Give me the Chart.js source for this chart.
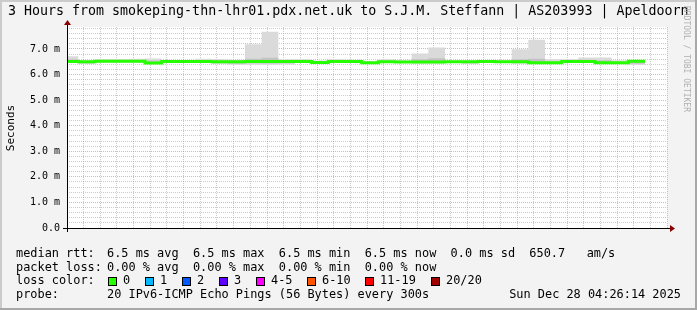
<!DOCTYPE html>
<html>
<head>
<meta charset="utf-8">
<script src="https://cdn.jsdelivr.net/npm/chart.js@4/dist/chart.umd.min.js"></script>
<style>
  html, body { margin: 0; padding: 0; background: #f3f3f3; }
</style>
</head>
<body>
<canvas id="smoke" width="697" height="310"></canvas>
<script>
// bucket start times, minutes after midnight (5 min steps)
const bucketStart = [85, 90, 95, 100, 105, 110, 115, 120, 125, 130, 135, 140, 145, 150, 155, 160, 165, 170,
  175, 180, 185, 190, 195, 200, 205, 210, 215, 220, 225, 230, 235, 240, 245, 250, 255];
// median rtt, ms
const medianRtt = [6.51, 6.50, 6.52, 6.52, 6.52, 6.45, 6.51, 6.51, 6.51, 6.50, 6.50, 6.51, 6.51, 6.51, 6.51, 6.47, 6.51, 6.51,
  6.46, 6.50, 6.49, 6.49, 6.49, 6.50, 6.50, 6.51, 6.50, 6.50, 6.46, 6.46, 6.51, 6.51, 6.46, 6.46, 6.52];
// smoke, min / max ping, ms
const smokeMin = [6.45, 6.41, 6.47, 6.47, 6.47, 6.42, 6.48, 6.48, 6.47, 6.41, 6.38, 6.38, 6.38, 6.39, 6.45, 6.42, 6.47, 6.47,
  6.43, 6.46, 6.45, 6.42, 6.42, 6.46, 6.41, 6.46, 6.46, 6.42, 6.42, 6.42, 6.46, 6.45, 6.42, 6.43, 6.37];
const smokeMax = [6.72, 6.55, 6.60, 6.60, 6.62, 6.63, 6.56, 6.57, 6.62, 6.60, 6.58, 7.19, 7.67, 6.60, 6.60, 6.55, 6.60, 6.58,
  6.52, 6.60, 6.56, 6.82, 7.06, 6.55, 6.54, 6.55, 6.55, 6.99, 7.36, 6.60, 6.60, 6.67, 6.67, 6.56, 6.55];
// darker inner smoke
const innerLo = [6.47, 6.44, 6.49, 6.49, 6.49, 6.43, 6.49, 6.49, 6.48, 6.45, 6.42, 6.44, 6.43, 6.44, 6.48, 6.44, 6.49, 6.49,
  6.44, 6.48, 6.47, 6.46, 6.45, 6.48, 6.45, 6.49, 6.48, 6.46, 6.44, 6.44, 6.49, 6.48, 6.44, 6.44, 6.42];
const innerHi = [6.60, 6.53, 6.56, 6.55, 6.56, 6.55, 6.53, 6.53, 6.57, 6.55, 6.54, 6.62, 6.66, 6.55, 6.55, 6.51, 6.55, 6.54,
  6.49, 6.54, 6.52, 6.60, 6.64, 6.52, 6.52, 6.53, 6.52, 6.60, 6.62, 6.52, 6.55, 6.58, 6.56, 6.50, 6.54];

const lossLabels = ['0', '1', '2', '3', '4-5', '6-10', '11-19', '20/20'];
const lossColors = ['#26ff00', '#00b8ff', '#0059ff', '#5e00ff', '#ff00ff', '#ff5500', '#ff0000', '#a10000'];
const lossX = [108, 145, 182, 219, 256, 307, 365, 431];

const title = '3 Hours from smokeping-thn-lhr01.pdx.net.uk to S.J.M. Steffann | AS203993 | Apeldoorn';
const rttRow = '6.5 ms avg  6.5 ms max  6.5 ms min  6.5 ms now  0.0 ms sd  650.7   am/s';
const lossRow = '0.00 % avg  0.00 % max  0.00 % min  0.00 % now';
const probeRow = '20 IPv6-ICMP Echo Pings (56 Bytes) every 300s';
const stamp = 'Sun Dec 28 04:26:14 2025';

const mono = '"DejaVu Sans Mono", monospace';

// step points: each bucket holds its value until the next one
const steps = (vals) => bucketStart.map((t, i) => ({ x: t, y: vals[i] }))
  .concat([{ x: bucketStart[bucketStart.length - 1] + 5, y: vals[vals.length - 1] }]);

const hhmm = (v) => String(Math.floor(v / 60)).padStart(2, '0') + ':' + String(v % 60).padStart(2, '0');

const frame = {
  id: 'frame',
  beforeDraw(chart) {
    const { ctx, chartArea: a } = chart;
    ctx.save();
    ctx.fillStyle = '#f3f3f3';
    ctx.fillRect(0, 0, chart.width, chart.height);
    ctx.fillStyle = '#ffffff';
    ctx.fillRect(a.left, a.top, a.right - a.left, a.bottom - a.top);
    ctx.restore();
  },
  afterDraw(chart) {
    const { ctx, chartArea: a } = chart;
    const W = chart.width, H = chart.height;
    ctx.save();
    // 3d frame
    ctx.fillStyle = '#cbcbcb';
    ctx.fillRect(0, 0, W, 2);
    ctx.fillRect(0, 0, 2, H);
    ctx.fillStyle = '#a8a8a8';
    ctx.fillRect(0, H - 2, W, 2);
    ctx.fillRect(W - 2, 0, 2, H);

    // axes
    ctx.strokeStyle = '#000';
    ctx.lineWidth = 1;
    ctx.beginPath();
    ctx.moveTo(a.left - 4, a.bottom + 0.5);
    ctx.lineTo(a.right + 4, a.bottom + 0.5);
    ctx.moveTo(a.left + 0.5, a.bottom + 4);
    ctx.lineTo(a.left + 0.5, a.top - 2);
    ctx.stroke();
    // arrows
    ctx.fillStyle = '#8b0000';
    ctx.beginPath();
    ctx.moveTo(a.right + 3, a.bottom - 3);
    ctx.lineTo(a.right + 8, a.bottom + 0.5);
    ctx.lineTo(a.right + 3, a.bottom + 4);
    ctx.fill();
    ctx.beginPath();
    ctx.moveTo(a.left - 3, a.top - 2);
    ctx.lineTo(a.left + 0.5, a.top - 7);
    ctx.lineTo(a.left + 4, a.top - 2);
    ctx.fill();

    // title
    ctx.fillStyle = '#000';
    ctx.textBaseline = 'middle';
    ctx.font = '13.3px ' + mono;
    ctx.fillText(title, 8, 12);

    // y label
    ctx.font = '11px ' + mono;
    ctx.save();
    ctx.translate(11, 128);
    ctx.rotate(-Math.PI / 2);
    ctx.textAlign = 'center';
    ctx.fillText('Seconds', 0, 0);
    ctx.restore();

    // watermark
    ctx.save();
    ctx.fillStyle = '#b0b0b0';
    ctx.font = '8px ' + mono;
    ctx.translate(686, 6);
    ctx.rotate(Math.PI / 2);
    ctx.fillText('RRDTOOL / TOBI OETIKER', 0, 0);
    ctx.restore();

    // legend
    ctx.fillStyle = '#000';
    ctx.font = '11.9px ' + mono;
    ctx.fillText('median rtt:', 16, 254);
    ctx.fillText(rttRow, 107, 254);
    ctx.fillText('packet loss:', 16, 268);
    ctx.fillText(lossRow, 107, 268);
    ctx.fillText('loss color:', 16, 281);
    lossLabels.forEach((lab, i) => {
      ctx.fillStyle = lossColors[i];
      ctx.fillRect(lossX[i], 277, 8, 8);
      ctx.strokeStyle = '#000';
      ctx.strokeRect(lossX[i] + 0.5, 277.5, 8, 8);
      ctx.fillStyle = '#000';
      ctx.fillText(lab, lossX[i] + 15, 281);
    });
    ctx.fillText('probe:', 16, 295);
    ctx.fillText(probeRow, 107, 295);
    ctx.textAlign = 'right';
    ctx.fillText(stamp, 681, 295);
    ctx.restore();
  }
};

const minorGrid = 'rgba(140,140,140,0.45)';
const majorGrid = 'rgba(255,90,90,0.55)';

new Chart(document.getElementById('smoke'), {
  type: 'line',
  data: {
    datasets: [
      // median first so it is drawn on top of the smoke
      { data: steps(medianRtt), borderColor: '#26ff00', borderWidth: 3, pointRadius: 0, fill: false, stepped: true, order: 0 },
      { data: steps(smokeMin), borderWidth: 0, pointRadius: 0, fill: false, stepped: true, order: 4 },
      { data: steps(smokeMax), borderWidth: 0, pointRadius: 0, fill: 1, backgroundColor: '#dadada', stepped: true, order: 3 },
      { data: steps(innerLo), borderWidth: 0, pointRadius: 0, fill: false, stepped: true, order: 2 },
      { data: steps(innerHi), borderWidth: 0, pointRadius: 0, fill: 3, backgroundColor: '#c2c2c2', stepped: true, order: 1 }
    ]
  },
  options: {
    responsive: false,
    animation: false,
    devicePixelRatio: 1,
    layout: { padding: { left: 0, right: 30, top: 27, bottom: 0 } },
    plugins: { legend: { display: false }, tooltip: { enabled: false }, title: { display: false } },
    scales: {
      x: {
        type: 'linear',
        min: 86.6,
        max: 266.6,
        z: 1,
        afterFit: (s) => { s.height = 82; },
        border: { display: false, dash: [1, 1] },
        grid: {
          drawTicks: false,
          color: (c) => (c.tick && c.tick.value % 20 === 0 ? majorGrid : minorGrid)
        },
        ticks: {
          stepSize: 5,
          includeBounds: false,
          autoSkip: false,
          maxRotation: 0,
          padding: 5,
          color: '#000',
          font: { family: mono, size: 10 },
          callback: (v) => (v % 20 === 0 ? hhmm(v) : '')
        }
      },
      y: {
        min: 0,
        max: 7.86,
        z: 1,
        afterFit: (s) => { s.width = 67; },
        border: { display: false, dash: [1, 1] },
        grid: {
          drawTicks: false,
          color: (c) => (c.tick && Math.abs(c.tick.value - Math.round(c.tick.value)) < 1e-6 ? majorGrid : minorGrid)
        },
        ticks: {
          stepSize: 0.2,
          includeBounds: false,
          autoSkip: false,
          padding: 7,
          color: '#000',
          font: { family: mono, size: 10 },
          callback: (v) => {
            if (Math.abs(v - Math.round(v)) > 1e-6) return '';
            return v === 0 ? '0.0' : v.toFixed(1) + ' m';
          }
        }
      }
    }
  },
  plugins: [frame]
});
</script>
</body>
</html>
